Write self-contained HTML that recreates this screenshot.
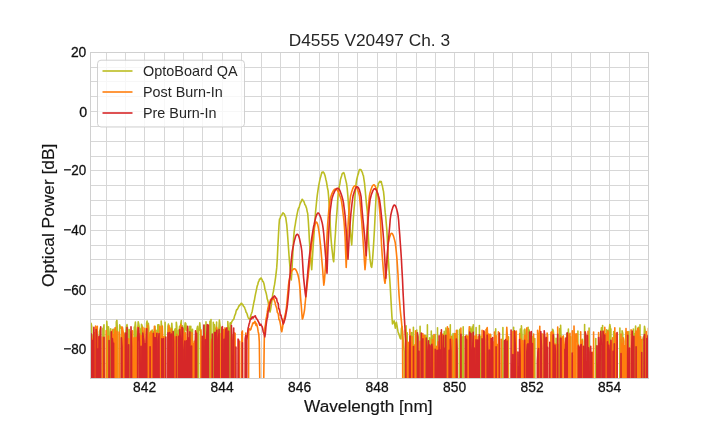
<!DOCTYPE html>
<html lang="en"><head><meta charset="utf-8"><title>D4555 V20497 Ch. 3</title>
<style>
html,body{margin:0;padding:0;background:#fff;}
body{width:720px;height:432px;overflow:hidden;font-family:"Liberation Sans",Arial,sans-serif;}
svg{display:block;position:absolute;left:0;top:0;}
.ov{filter:grayscale(1);}
.t{font-family:"Liberation Sans",Arial,sans-serif;fill:#262626;}
</style></head><body>
<svg width="720" height="432" viewBox="0 0 720 432">
<rect width="720" height="432" fill="#ffffff"/>
<defs><clipPath id="c"><rect x="90" y="52" width="559" height="327"/></clipPath></defs>
<path d="M106.5,52.5V378.5M125.5,52.5V378.5M144.5,52.5V378.5M164.5,52.5V378.5M183.5,52.5V378.5M202.5,52.5V378.5M222.5,52.5V378.5M241.5,52.5V378.5M261.5,52.5V378.5M280.5,52.5V378.5M299.5,52.5V378.5M319.5,52.5V378.5M338.5,52.5V378.5M357.5,52.5V378.5M377.5,52.5V378.5M396.5,52.5V378.5M416.5,52.5V378.5M435.5,52.5V378.5M454.5,52.5V378.5M474.5,52.5V378.5M493.5,52.5V378.5M512.5,52.5V378.5M532.5,52.5V378.5M551.5,52.5V378.5M571.5,52.5V378.5M590.5,52.5V378.5M609.5,52.5V378.5M629.5,52.5V378.5M90.5,67.5H648.5M90.5,81.5H648.5M90.5,96.5H648.5M90.5,111.5H648.5M90.5,126.5H648.5M90.5,141.5H648.5M90.5,156.5H648.5M90.5,170.5H648.5M90.5,185.5H648.5M90.5,200.5H648.5M90.5,215.5H648.5M90.5,230.5H648.5M90.5,245.5H648.5M90.5,259.5H648.5M90.5,274.5H648.5M90.5,289.5H648.5M90.5,304.5H648.5M90.5,319.5H648.5M90.5,334.5H648.5M90.5,348.5H648.5M90.5,363.5H648.5" stroke="#d7d7d7" stroke-width="1" fill="none" shape-rendering="crispEdges"/>
<g clip-path="url(#c)" fill="none" stroke-width="1.6" stroke-linejoin="round" stroke-linecap="butt">
<path d="M90.0,332.4 L90.6,630.0 L91.1,323.3 L91.7,326.4 L92.2,625.5 L92.8,650.5 L93.4,335.7 L93.9,333.1 L94.5,661.3 L95.0,603.6 L95.6,328.8 L96.2,328.0 L96.7,601.2 L97.3,669.2 L97.8,637.0 L98.4,683.0 L99.0,626.8 L99.5,331.8 L100.1,329.6 L100.6,327.8 L101.2,659.8 L101.8,638.8 L102.3,615.0 L102.9,328.4 L103.4,328.6 L104.0,324.9 L104.6,640.2 L105.1,696.8 L105.7,667.2 L106.2,687.4 L106.8,321.4 L107.4,332.8 L107.9,619.2 L108.5,326.8 L109.0,332.4 L109.6,641.1 L110.2,603.8 L110.7,328.7 L111.3,675.1 L111.8,637.2 L112.4,612.3 L113.0,329.2 L113.5,331.9 L114.1,329.1 L114.7,331.4 L115.2,693.3 L115.8,675.3 L116.3,321.9 L116.9,320.4 L117.5,332.9 L118.0,619.9 L118.6,617.9 L119.1,694.8 L119.7,324.9 L120.3,326.9 L120.8,328.1 L121.4,328.0 L121.9,328.1 L122.5,643.0 L123.1,333.0 L123.6,332.5 L124.2,334.4 L124.7,620.3 L125.3,621.3 L125.9,331.2 L126.4,327.1 L127.0,324.6 L127.5,328.7 L128.1,606.2 L128.7,676.4 L129.2,329.5 L129.8,336.1 L130.3,331.9 L130.9,602.0 L131.5,624.9 L132.0,656.7 L132.6,659.0 L133.1,667.8 L133.7,631.1 L134.3,327.1 L134.8,327.8 L135.4,322.0 L135.9,331.5 L136.5,631.8 L137.1,662.7 L137.6,331.0 L138.2,321.8 L138.7,324.0 L139.3,327.7 L139.9,328.9 L140.4,332.6 L141.0,602.7 L141.5,324.2 L142.1,325.7 L142.7,328.2 L143.2,613.4 L143.8,331.4 L144.3,654.0 L144.9,624.7 L145.5,645.7 L146.0,675.3 L146.6,323.2 L147.1,321.0 L147.7,608.1 L148.3,323.2 L148.8,328.2 L149.4,688.4 L149.9,671.1 L150.5,672.7 L151.1,331.6 L151.6,606.4 L152.2,330.1 L152.7,653.6 L153.3,331.7 L153.9,680.0 L154.4,330.4 L155.0,326.4 L155.5,675.9 L156.1,330.3 L156.7,642.0 L157.2,684.4 L157.8,325.0 L158.3,324.7 L158.9,324.8 L159.5,333.2 L160.0,338.1 L160.6,609.2 L161.2,321.1 L161.7,326.7 L162.3,691.4 L162.8,676.9 L163.4,647.3 L164.0,631.4 L164.5,672.0 L165.1,322.4 L165.6,639.4 L166.2,612.5 L166.8,650.3 L167.3,617.6 L167.9,326.4 L168.4,324.1 L169.0,651.6 L169.6,327.3 L170.1,331.5 L170.7,611.3 L171.2,333.0 L171.8,323.2 L172.4,331.9 L172.9,660.0 L173.5,623.7 L174.0,332.3 L174.6,330.5 L175.2,328.9 L175.7,616.8 L176.3,322.2 L176.8,326.3 L177.4,651.4 L178.0,696.5 L178.5,330.4 L179.1,331.7 L179.6,326.3 L180.2,331.3 L180.8,323.7 L181.3,320.6 L181.9,695.8 L182.4,325.7 L183.0,329.9 L183.6,330.4 L184.1,645.3 L184.7,326.8 L185.2,322.9 L185.8,323.5 L186.4,330.2 L186.9,326.6 L187.5,329.3 L188.0,655.8 L188.6,674.4 L189.2,646.7 L189.7,326.2 L190.3,331.5 L190.8,326.2 L191.4,639.0 L192.0,332.0 L192.5,329.3 L193.1,618.3 L193.6,629.3 L194.2,699.9 L194.8,644.7 L195.3,658.1 L195.9,332.3 L196.4,688.4 L197.0,328.9 L197.6,326.3 L198.1,642.0 L198.7,331.2 L199.2,329.3 L199.8,322.8 L200.4,330.0 L200.9,331.7 L201.5,668.3 L202.0,664.3 L202.6,663.7 L203.2,647.7 L203.7,328.2 L204.3,325.2 L204.8,606.7 L205.4,677.2 L206.0,321.9 L206.5,676.8 L207.1,332.6 L207.7,331.5 L208.2,625.7 L208.8,648.9 L209.3,644.1 L209.9,321.2 L210.5,628.3 L211.0,319.6 L211.6,647.4 L212.1,645.8 L212.7,627.0 L213.3,322.3 L213.8,641.8 L214.4,324.6 L214.9,328.4 L215.5,328.9 L216.1,695.3 L216.6,322.1 L217.2,683.1 L217.7,335.0 L218.3,329.0 L218.9,328.1 L219.4,320.1 L220.0,325.5 L220.5,613.2 L221.1,630.4 L221.7,692.8 L222.2,689.9 L222.8,331.3 L223.3,678.7 L223.9,614.2 L224.5,329.5 L225.0,693.9 L225.6,670.2 L226.1,681.5 L226.7,651.6 L227.3,655.0 L227.8,321.5 L228.4,328.6 L228.9,328.0 L229.5,675.8 L230.1,322.9 L230.6,322.7 L231.2,323.7 L231.7,321.9 L232.3,320.9 L232.8,319.9 L233.4,319.7 L233.9,318.9 L234.5,316.3 L235.0,315.0 L235.6,313.6 L236.1,311.2 L236.7,309.5 L237.2,309.7 L237.8,308.4 L238.3,307.4 L238.9,305.9 L239.4,305.9 L240.0,304.6 L240.6,304.6 L241.1,303.3 L241.7,303.4 L242.2,304.4 L242.8,304.6 L243.3,305.9 L243.9,306.6 L244.4,307.1 L245.0,308.8 L245.5,310.0 L246.1,312.2 L246.6,312.8 L247.2,314.2 L247.7,316.2 L248.3,317.8 L248.8,318.7 L249.4,318.8 L250.0,318.6 L250.5,316.5 L251.1,314.5 L251.6,313.2 L252.2,311.4 L252.7,308.6 L253.3,305.3 L253.9,302.2 L254.4,300.3 L255.0,296.7 L255.5,294.1 L256.1,291.4 L256.6,288.9 L257.2,286.0 L257.8,284.5 L258.3,282.2 L258.9,281.1 L259.4,279.4 L260.0,279.5 L260.5,278.4 L261.1,278.0 L261.6,278.8 L262.2,279.8 L262.8,281.6 L263.3,281.8 L263.9,283.5 L264.4,285.8 L265.0,289.5 L265.5,291.1 L266.1,292.9 L266.7,295.7 L267.2,298.9 L267.8,300.3 L268.3,302.9 L268.9,306.5 L269.4,309.0 L270.0,312.0 L270.6,309.5 L271.1,306.1 L271.7,302.1 L272.2,298.8 L272.8,293.9 L273.4,291.6 L273.9,287.8 L274.5,284.9 L275.0,281.7 L275.6,277.4 L276.2,272.3 L276.7,267.9 L277.3,258.9 L277.8,247.9 L278.4,236.4 L279.0,225.3 L279.5,219.1 L280.1,218.6 L280.6,216.4 L281.2,215.5 L281.8,215.2 L282.3,213.9 L282.9,212.8 L283.5,213.4 L284.0,213.7 L284.6,214.7 L285.1,216.4 L285.7,217.3 L286.3,221.6 L286.8,225.2 L287.4,232.4 L287.9,239.5 L288.5,248.0 L289.1,256.4 L289.6,263.0 L290.2,269.2 L290.7,274.3 L291.3,280.0 L291.9,271.3 L292.4,260.9 L293.0,250.4 L293.6,238.1 L294.1,232.5 L294.7,227.6 L295.3,224.3 L295.8,220.9 L296.4,217.8 L297.0,214.6 L297.5,212.2 L298.1,209.5 L298.7,207.8 L299.2,207.4 L299.8,204.7 L300.4,203.2 L300.9,202.1 L301.5,201.0 L302.1,199.3 L302.6,199.6 L303.2,200.7 L303.8,201.3 L304.3,202.6 L304.9,204.8 L305.5,205.1 L306.0,206.9 L306.6,208.3 L307.2,211.6 L307.7,213.5 L308.3,220.7 L308.9,230.5 L309.4,240.5 L310.0,248.9 L310.6,257.1 L311.1,262.5 L311.7,269.6 L312.3,260.0 L312.8,252.0 L313.4,242.9 L314.0,234.2 L314.5,226.8 L315.1,218.3 L315.6,211.4 L316.2,205.5 L316.8,199.4 L317.3,195.1 L317.9,190.8 L318.5,186.8 L319.0,184.1 L319.6,181.1 L320.2,178.3 L320.7,176.8 L321.3,174.4 L321.9,172.3 L322.4,172.7 L323.0,171.9 L323.5,172.4 L324.1,173.1 L324.7,174.7 L325.2,176.3 L325.8,179.2 L326.4,181.5 L326.9,184.5 L327.5,188.0 L328.1,190.9 L328.6,196.5 L329.2,205.6 L329.8,216.0 L330.3,226.6 L330.9,236.6 L331.4,243.1 L332.0,249.1 L332.6,254.4 L333.1,259.2 L333.7,261.7 L334.3,251.9 L334.8,242.2 L335.4,234.0 L335.9,225.1 L336.5,217.6 L337.1,209.9 L337.6,202.0 L338.2,193.6 L338.8,189.9 L339.3,186.2 L339.9,183.7 L340.4,179.9 L341.0,177.7 L341.6,175.9 L342.1,174.0 L342.7,173.1 L343.3,173.1 L343.8,172.7 L344.4,174.3 L344.9,176.6 L345.5,179.1 L346.1,181.6 L346.6,183.8 L347.2,188.5 L347.8,195.3 L348.3,202.3 L348.9,211.6 L349.4,219.7 L350.0,227.9 L350.6,234.2 L351.1,239.8 L351.7,244.9 L352.3,235.0 L352.8,226.1 L353.4,217.2 L353.9,211.2 L354.5,204.2 L355.0,196.2 L355.6,188.3 L356.1,183.3 L356.7,179.7 L357.3,177.2 L357.8,175.1 L358.4,173.6 L358.9,171.3 L359.5,169.5 L360.0,169.6 L360.6,169.5 L361.1,169.9 L361.7,171.4 L362.3,172.3 L362.8,174.3 L363.4,175.6 L363.9,179.1 L364.5,182.9 L365.0,188.0 L365.6,194.5 L366.1,200.2 L366.7,206.2 L367.3,211.1 L367.8,221.7 L368.4,237.5 L368.9,246.3 L369.5,252.6 L370.0,258.9 L370.6,263.2 L371.1,266.5 L371.7,267.4 L372.3,262.3 L372.8,256.1 L373.4,247.4 L373.9,239.2 L374.5,228.8 L375.1,216.0 L375.6,205.7 L376.2,194.9 L376.8,190.3 L377.3,188.4 L377.9,186.2 L378.4,183.5 L379.0,182.7 L379.6,181.6 L380.1,181.3 L380.7,182.2 L381.3,181.6 L381.8,184.3 L382.4,185.8 L382.9,189.0 L383.5,191.4 L384.1,197.2 L384.6,205.5 L385.2,212.4 L385.8,217.7 L386.3,223.8 L386.9,230.7 L387.4,240.5 L388.0,253.4 L388.6,262.8 L389.1,270.7 L389.7,278.6 L390.3,287.9 L390.8,297.0 L391.4,307.6 L391.9,316.4 L392.5,323.9 L393.1,322.5 L393.6,321.7 L394.2,320.8 L394.7,324.4 L395.3,328.2 L395.8,324.7 L396.4,322.3 L397.0,325.6 L397.5,328.8 L398.1,331.9 L398.6,333.4 L399.2,335.0 L399.7,336.7 L400.3,338.4 L400.9,338.9 L401.4,328.6 L402.0,326.4 L402.5,332.9 L403.1,339.3 L403.6,345.5 L404.2,351.7 L405.0,673.0 L405.6,621.0 L406.1,325.9 L406.7,647.1 L407.2,332.9 L407.8,666.0 L408.4,625.3 L408.9,654.0 L409.5,650.4 L410.0,665.7 L410.6,690.7 L411.2,333.1 L411.7,332.6 L412.3,672.0 L412.8,660.3 L413.4,327.2 L414.0,637.9 L414.5,606.9 L415.1,662.3 L415.6,666.9 L416.2,341.8 L416.8,330.1 L417.3,686.9 L417.9,335.7 L418.4,651.9 L419.0,612.6 L419.6,680.1 L420.1,326.4 L420.7,613.4 L421.2,658.3 L421.8,642.9 L422.3,666.5 L422.9,639.9 L423.5,690.4 L424.0,671.9 L424.6,689.4 L425.1,650.5 L425.7,335.6 L426.3,699.1 L426.8,630.1 L427.4,324.9 L427.9,608.6 L428.5,659.2 L429.1,610.9 L429.6,337.7 L430.2,654.2 L430.7,642.8 L431.3,331.1 L431.9,656.4 L432.4,335.9 L433.0,336.4 L433.5,677.9 L434.1,664.0 L434.7,651.6 L435.2,334.6 L435.8,691.9 L436.3,669.5 L436.9,693.5 L437.5,327.8 L438.0,649.7 L438.6,654.9 L439.1,636.8 L439.7,660.2 L440.3,339.7 L440.8,600.6 L441.4,696.1 L441.9,687.0 L442.5,629.4 L443.1,334.3 L443.6,611.9 L444.2,331.4 L444.7,629.7 L445.3,674.4 L445.9,328.1 L446.4,332.7 L447.0,687.4 L447.5,688.8 L448.1,338.0 L448.7,619.7 L449.2,632.5 L449.8,662.8 L450.3,324.8 L450.9,681.8 L451.4,651.2 L452.0,336.0 L452.6,646.2 L453.1,333.6 L453.7,638.5 L454.2,658.7 L454.8,333.7 L455.4,688.6 L455.9,647.1 L456.5,333.6 L457.0,612.7 L457.6,330.4 L458.2,650.9 L458.7,678.6 L459.3,696.5 L459.8,329.4 L460.4,332.2 L461.0,624.7 L461.5,664.0 L462.1,337.0 L462.6,649.2 L463.2,326.9 L463.8,655.6 L464.3,692.7 L464.9,620.7 L465.4,671.2 L466.0,690.0 L466.6,339.5 L467.1,638.8 L467.7,336.3 L468.2,691.7 L468.8,340.2 L469.4,330.2 L469.9,326.7 L470.5,333.2 L471.0,329.0 L471.6,612.7 L472.2,327.0 L472.7,335.3 L473.3,324.8 L473.8,605.0 L474.4,673.6 L475.0,661.7 L475.5,623.7 L476.1,327.6 L476.6,693.9 L477.2,641.0 L477.8,671.9 L478.3,336.8 L478.9,670.7 L479.4,325.6 L480.0,646.0 L480.6,661.4 L481.1,336.1 L481.7,646.7 L482.2,636.6 L482.8,628.1 L483.3,614.8 L483.9,629.3 L484.5,339.4 L485.0,690.2 L485.6,655.5 L486.1,665.0 L486.7,328.8 L487.3,679.6 L487.8,687.0 L488.4,670.8 L488.9,650.9 L489.5,620.1 L490.1,679.1 L490.6,335.1 L491.2,608.4 L491.7,657.6 L492.3,644.7 L492.9,672.6 L493.4,674.5 L494.0,608.8 L494.5,662.3 L495.1,338.3 L495.7,328.9 L496.2,632.2 L496.8,653.1 L497.3,663.8 L497.9,638.4 L498.5,634.5 L499.0,646.0 L499.6,601.8 L500.1,622.0 L500.7,607.4 L501.3,689.4 L501.8,610.5 L502.4,612.7 L502.9,327.5 L503.5,611.8 L504.1,627.5 L504.6,698.6 L505.2,679.1 L505.7,658.0 L506.3,628.8 L506.9,336.1 L507.4,682.0 L508.0,337.0 L508.5,336.9 L509.1,637.0 L509.7,692.6 L510.2,639.5 L510.8,669.7 L511.3,679.8 L511.9,666.0 L512.4,646.4 L513.0,640.3 L513.6,327.2 L514.1,623.5 L514.7,338.0 L515.2,334.9 L515.8,338.0 L516.4,683.0 L516.9,667.2 L517.5,633.8 L518.0,615.5 L518.6,636.9 L519.2,685.2 L519.7,668.0 L520.3,329.1 L520.8,639.3 L521.4,325.8 L522.0,334.7 L522.5,635.3 L523.1,619.5 L523.6,630.5 L524.2,330.1 L524.8,329.1 L525.3,335.4 L525.9,610.6 L526.4,634.9 L527.0,692.4 L527.6,699.1 L528.1,327.3 L528.7,603.9 L529.2,330.0 L529.8,665.2 L530.4,601.2 L530.9,625.7 L531.5,333.1 L532.0,667.6 L532.6,336.9 L533.2,623.4 L533.7,619.5 L534.3,696.0 L534.8,338.6 L535.4,639.1 L536.0,629.3 L536.5,677.1 L537.1,627.7 L537.6,667.6 L538.2,672.5 L538.8,618.1 L539.3,628.2 L539.9,341.3 L540.4,629.8 L541.0,340.7 L541.6,635.5 L542.1,686.4 L542.7,619.1 L543.2,613.7 L543.8,334.6 L544.3,679.6 L544.9,606.7 L545.5,663.8 L546.0,645.2 L546.6,696.6 L547.1,671.7 L547.7,608.1 L548.3,606.3 L548.8,620.0 L549.4,632.2 L549.9,681.7 L550.5,610.3 L551.1,334.9 L551.6,654.2 L552.2,685.8 L552.7,329.3 L553.3,330.7 L553.9,337.5 L554.4,684.2 L555.0,626.4 L555.5,633.5 L556.1,338.3 L556.7,638.4 L557.2,695.6 L557.8,344.4 L558.3,627.0 L558.9,600.3 L559.5,328.7 L560.0,632.3 L560.6,325.2 L561.1,338.5 L561.7,622.3 L562.3,337.2 L562.8,621.6 L563.4,633.1 L563.9,640.6 L564.5,628.7 L565.1,633.2 L565.6,661.9 L566.2,619.8 L566.7,333.6 L567.3,675.2 L567.9,339.2 L568.4,329.0 L569.0,625.8 L569.5,639.7 L570.1,665.7 L570.7,336.7 L571.2,683.8 L571.8,619.3 L572.3,646.2 L572.9,653.9 L573.4,665.5 L574.0,668.6 L574.6,670.7 L575.1,336.1 L575.7,334.5 L576.2,651.8 L576.8,624.8 L577.4,636.4 L577.9,331.0 L578.5,620.1 L579.0,697.7 L579.6,653.7 L580.2,605.3 L580.7,339.4 L581.3,637.4 L581.8,666.2 L582.4,339.3 L583.0,623.0 L583.5,670.3 L584.1,644.9 L584.6,324.6 L585.2,699.3 L585.8,604.7 L586.3,665.0 L586.9,684.0 L587.4,670.4 L588.0,688.2 L588.6,673.1 L589.1,328.1 L589.7,649.9 L590.2,678.1 L590.8,649.7 L591.4,645.5 L591.9,616.1 L592.5,626.5 L593.0,678.3 L593.6,620.5 L594.2,631.3 L594.7,637.3 L595.3,667.4 L595.8,338.6 L596.4,641.6 L597.0,695.2 L597.5,620.5 L598.1,659.0 L598.6,693.7 L599.2,659.6 L599.8,689.1 L600.3,639.4 L600.9,340.1 L601.4,327.9 L602.0,606.3 L602.6,325.5 L603.1,601.4 L603.7,607.6 L604.2,336.4 L604.8,337.6 L605.3,340.0 L605.9,690.1 L606.5,329.7 L607.0,334.9 L607.6,630.8 L608.1,330.2 L608.7,634.3 L609.3,329.0 L609.8,324.5 L610.4,328.0 L610.9,329.2 L611.5,669.4 L612.1,638.4 L612.6,629.2 L613.2,690.4 L613.7,331.6 L614.3,628.1 L614.9,696.5 L615.4,657.9 L616.0,335.6 L616.5,673.3 L617.1,341.0 L617.7,697.7 L618.2,652.2 L618.8,608.4 L619.3,672.0 L619.9,328.0 L620.5,629.2 L621.0,339.5 L621.6,646.3 L622.1,330.7 L622.7,333.1 L623.3,675.0 L623.8,633.1 L624.4,660.6 L624.9,611.1 L625.5,339.5 L626.1,332.6 L626.6,331.9 L627.2,332.8 L627.7,339.6 L628.3,678.5 L628.9,331.5 L629.4,600.6 L630.0,633.2 L630.5,676.6 L631.1,656.8 L631.7,636.0 L632.2,333.1 L632.8,655.7 L633.3,329.1 L633.9,608.7 L634.4,333.7 L635.0,338.5 L635.6,326.0 L636.1,339.5 L636.7,638.8 L637.2,655.5 L637.8,337.8 L638.4,327.3 L638.9,675.2 L639.5,646.7 L640.0,324.9 L640.6,685.2 L641.2,682.3 L641.7,630.3 L642.3,665.4 L642.8,339.5 L643.4,336.9 L644.0,340.0 L644.5,326.4 L645.1,330.0 L645.6,614.6 L646.2,336.0 L646.8,680.1 L647.3,339.6 L647.9,644.5 L648.4,649.6 L649.0,616.2" stroke="#bcbd22"/>
<path d="M90.0,606.4 L90.6,669.6 L91.1,697.5 L91.7,338.8 L92.2,679.9 L92.8,652.7 L93.4,336.7 L93.9,332.5 L94.5,623.8 L95.0,625.7 L95.6,326.1 L96.2,670.3 L96.7,331.5 L97.3,326.3 L97.8,649.3 L98.4,337.7 L99.0,669.3 L99.5,633.6 L100.1,620.1 L100.6,336.8 L101.2,690.1 L101.8,692.6 L102.3,654.7 L102.9,337.2 L103.4,660.4 L104.0,607.6 L104.6,648.0 L105.1,676.5 L105.7,601.4 L106.2,330.5 L106.8,620.9 L107.4,679.0 L107.9,683.7 L108.5,336.0 L109.0,618.3 L109.6,685.2 L110.2,678.6 L110.7,601.9 L111.3,673.5 L111.9,631.3 L112.4,330.0 L113.0,664.6 L113.5,617.9 L114.1,334.1 L114.7,335.5 L115.2,327.5 L115.8,611.4 L116.3,665.2 L116.9,331.3 L117.5,652.2 L118.0,693.4 L118.6,690.9 L119.1,332.1 L119.7,336.2 L120.3,687.7 L120.8,648.0 L121.4,684.5 L121.9,326.9 L122.5,327.5 L123.1,331.5 L123.6,336.8 L124.2,612.1 L124.7,339.3 L125.3,657.6 L125.9,673.5 L126.4,649.7 L127.0,666.2 L127.5,602.5 L128.1,617.9 L128.7,338.8 L129.2,610.3 L129.8,686.3 L130.3,663.2 L130.9,615.0 L131.5,648.5 L132.0,625.9 L132.6,330.9 L133.1,675.3 L133.7,647.8 L134.3,337.8 L134.8,684.0 L135.4,698.8 L135.9,337.2 L136.5,673.3 L137.1,698.9 L137.6,327.4 L138.2,676.3 L138.7,696.1 L139.3,699.5 L139.9,333.7 L140.4,608.8 L141.0,677.4 L141.5,335.5 L142.1,694.0 L142.7,327.2 L143.2,338.4 L143.8,650.7 L144.3,686.5 L144.9,328.4 L145.5,618.4 L146.0,657.3 L146.6,624.2 L147.1,632.5 L147.7,325.4 L148.3,605.0 L148.8,690.6 L149.4,339.6 L150.0,332.5 L150.5,692.3 L151.1,331.1 L151.6,342.1 L152.2,654.4 L152.8,333.5 L153.3,629.7 L153.9,625.5 L154.4,326.2 L155.0,331.9 L155.6,666.8 L156.1,337.8 L156.7,340.3 L157.2,332.5 L157.8,689.5 L158.4,698.2 L158.9,653.0 L159.5,619.0 L160.0,326.4 L160.6,685.0 L161.2,633.7 L161.7,338.4 L162.3,326.1 L162.8,338.9 L163.4,608.4 L164.0,336.8 L164.5,653.3 L165.1,674.8 L165.6,680.7 L166.2,649.4 L166.8,678.0 L167.3,623.5 L167.9,338.0 L168.4,331.2 L169.0,325.5 L169.6,642.4 L170.1,604.6 L170.7,610.4 L171.2,328.9 L171.8,623.6 L172.4,334.2 L172.9,339.9 L173.5,646.7 L174.0,602.0 L174.6,336.6 L175.2,676.1 L175.7,617.4 L176.3,341.9 L176.8,334.2 L177.4,615.1 L178.0,606.6 L178.5,671.6 L179.1,669.7 L179.6,342.5 L180.2,339.3 L180.8,324.9 L181.3,625.2 L181.9,687.3 L182.4,618.2 L183.0,328.8 L183.6,338.1 L184.1,626.9 L184.7,338.5 L185.2,332.7 L185.8,613.0 L186.4,629.6 L186.9,340.8 L187.5,328.2 L188.0,342.5 L188.6,344.2 L189.2,646.5 L189.7,627.9 L190.3,676.7 L190.9,340.1 L191.4,659.6 L192.0,332.8 L192.5,695.8 L193.1,343.5 L193.7,687.1 L194.2,341.2 L194.8,624.0 L195.3,341.0 L195.9,331.2 L196.5,622.1 L197.0,626.7 L197.6,651.6 L198.1,678.0 L198.7,644.4 L199.3,613.8 L199.8,656.3 L200.4,689.3 L200.9,329.9 L201.5,667.8 L202.1,647.2 L202.6,341.3 L203.2,683.3 L203.7,666.9 L204.3,333.5 L204.9,340.2 L205.4,617.3 L206.0,340.4 L206.5,336.8 L207.1,333.3 L207.7,678.2 L208.2,651.3 L208.8,660.7 L209.3,680.7 L209.9,672.2 L210.5,606.4 L211.0,345.1 L211.6,339.2 L212.1,635.6 L212.7,622.2 L213.3,650.8 L213.8,639.4 L214.4,663.4 L214.9,335.9 L215.5,625.6 L216.1,684.4 L216.6,327.3 L217.2,341.6 L217.7,337.3 L218.3,644.4 L218.9,621.6 L219.4,334.6 L220.0,333.6 L220.5,675.7 L221.1,611.3 L221.7,341.2 L222.2,329.9 L222.8,335.6 L223.3,329.5 L223.9,334.2 L224.5,619.6 L225.0,327.8 L225.6,651.9 L226.1,687.7 L226.7,341.9 L227.3,614.2 L227.8,330.6 L228.4,681.7 L229.0,642.1 L229.5,686.1 L230.1,663.1 L230.6,617.6 L231.2,338.3 L231.8,334.7 L232.3,628.7 L232.9,645.9 L233.4,692.1 L234.0,332.6 L234.6,338.6 L235.1,333.2 L235.7,665.8 L236.2,642.3 L236.8,619.2 L237.4,604.9 L237.9,632.4 L238.5,693.5 L239.0,681.1 L239.6,341.3 L240.2,695.0 L240.7,694.8 L241.3,606.0 L241.8,332.3 L242.4,331.0 L243.0,624.7 L243.5,651.8 L244.1,688.6 L244.6,604.4 L245.2,660.6 L245.8,333.0 L246.3,601.9 L246.9,699.8 L247.4,694.7 L248.0,622.3 L248.7,329.8 L249.2,328.8 L249.8,329.1 L250.3,330.0 L250.9,329.2 L251.5,326.8 L252.0,325.9 L252.6,323.6 L253.2,322.8 L253.7,323.5 L254.3,322.5 L254.8,321.3 L255.4,322.2 L256.0,325.4 L256.5,323.6 L257.1,325.8 L257.6,327.8 L258.2,331.7 L258.8,334.3 L259.3,341.6 L259.9,389.4 L260.5,420.6 L261.0,419.5 L261.6,419.1 L262.1,420.8 L262.7,420.9 L263.3,420.3 L263.8,374.2 L264.4,331.6 L264.9,327.4 L265.5,324.3 L266.1,318.9 L266.6,316.5 L267.2,312.9 L267.8,308.7 L268.3,306.8 L268.9,304.5 L269.4,302.1 L270.0,301.8 L270.6,299.4 L271.1,299.6 L271.7,299.3 L272.3,298.9 L272.8,299.4 L273.4,297.5 L273.9,298.5 L274.5,301.1 L275.1,302.4 L275.6,305.3 L276.2,306.7 L276.7,308.2 L277.3,312.2 L277.9,313.1 L278.4,314.6 L279.0,319.8 L279.6,319.9 L280.1,322.5 L280.7,325.6 L281.2,329.8 L281.8,331.7 L282.4,328.3 L282.9,325.2 L283.5,322.2 L284.0,319.5 L284.6,317.2 L285.1,314.8 L285.7,312.2 L286.2,309.1 L286.8,304.6 L287.3,298.6 L287.9,292.1 L288.4,286.0 L289.0,281.2 L289.6,278.2 L290.1,275.7 L290.7,273.5 L291.2,271.9 L291.8,270.9 L292.3,270.2 L292.9,269.6 L293.4,269.1 L294.0,268.8 L294.5,268.7 L295.1,268.9 L295.7,269.6 L296.2,270.5 L296.8,271.7 L297.3,273.0 L297.9,274.6 L298.4,276.8 L299.0,279.6 L299.5,283.7 L300.1,290.4 L300.6,297.9 L301.2,304.8 L301.7,311.8 L302.3,319.0 L302.9,318.0 L303.4,315.9 L304.0,313.1 L304.6,309.5 L305.1,303.9 L305.7,298.0 L306.3,292.8 L306.8,287.7 L307.4,282.6 L308.0,277.6 L308.5,272.6 L309.1,267.7 L309.7,262.6 L310.2,257.5 L310.8,252.3 L311.4,247.3 L311.9,242.6 L312.5,238.4 L313.1,234.5 L313.6,230.8 L314.2,227.7 L314.7,225.5 L315.3,223.7 L315.9,222.4 L316.4,222.0 L317.0,222.8 L317.6,224.3 L318.1,226.4 L318.7,229.8 L319.3,234.0 L319.8,238.6 L320.4,244.1 L321.0,250.1 L321.5,256.5 L322.1,263.0 L322.7,270.0 L323.2,277.4 L323.8,285.2 L324.4,280.8 L324.9,274.5 L325.5,266.8 L326.0,257.7 L326.6,244.9 L327.2,232.7 L327.7,223.7 L328.3,216.3 L328.8,210.6 L329.4,205.3 L330.0,200.9 L330.5,197.7 L331.1,195.9 L331.6,194.4 L332.2,193.1 L332.8,191.9 L333.3,190.9 L333.9,190.1 L334.4,189.5 L335.0,189.1 L335.6,189.0 L336.1,189.1 L336.7,189.5 L337.2,190.1 L337.8,191.0 L338.4,192.0 L338.9,193.2 L339.5,194.6 L340.0,196.1 L340.6,197.7 L341.2,199.7 L341.7,202.7 L342.3,206.6 L342.8,211.1 L343.4,215.9 L344.0,221.2 L344.5,227.9 L345.1,237.1 L345.6,250.6 L346.2,267.5 L346.8,252.9 L347.3,240.1 L347.9,228.9 L348.4,219.1 L349.0,211.7 L349.5,205.1 L350.1,199.7 L350.6,195.8 L351.2,193.6 L351.7,191.7 L352.3,190.0 L352.8,188.5 L353.4,187.4 L353.9,186.5 L354.5,186.0 L355.0,185.8 L355.6,186.0 L356.2,186.6 L356.7,187.5 L357.3,188.7 L357.8,190.2 L358.4,192.0 L358.9,193.9 L359.5,196.4 L360.0,201.2 L360.6,207.5 L361.1,214.2 L361.7,220.9 L362.2,228.3 L362.8,236.0 L363.3,244.0 L363.9,252.2 L364.4,260.8 L365.0,269.7 L365.6,263.0 L366.1,254.3 L366.7,244.3 L367.2,231.2 L367.8,216.1 L368.3,207.5 L368.9,201.0 L369.4,196.1 L370.0,193.0 L370.6,191.0 L371.1,189.2 L371.7,187.7 L372.2,186.4 L372.8,185.5 L373.3,185.0 L373.9,184.8 L374.4,185.1 L375.0,185.9 L375.6,187.1 L376.1,188.6 L376.7,190.3 L377.2,192.3 L377.8,194.5 L378.3,197.8 L378.9,202.3 L379.4,207.7 L380.0,214.0 L380.6,223.8 L381.1,236.6 L381.7,247.5 L382.2,255.4 L382.8,262.8 L383.3,269.5 L383.9,275.3 L384.4,280.0 L385.0,283.3 L385.6,278.7 L386.1,273.1 L386.7,266.8 L387.3,257.9 L387.8,248.1 L388.4,242.6 L389.0,239.9 L389.5,237.6 L390.1,235.7 L390.6,234.3 L391.2,233.5 L391.8,233.3 L392.3,233.7 L392.9,234.7 L393.5,236.1 L394.0,237.9 L394.6,240.1 L395.2,242.5 L395.7,246.4 L396.3,251.9 L396.9,258.4 L397.4,265.6 L398.0,274.5 L398.5,285.7 L399.1,295.7 L399.7,303.0 L400.2,309.2 L400.8,315.1 L401.4,320.9 L401.9,326.4 L402.5,331.7 L404.3,674.1 L404.9,621.2 L405.4,330.1 L406.0,643.1 L406.5,340.6 L407.1,680.5 L407.7,644.0 L408.2,342.4 L408.8,690.0 L409.3,671.0 L409.9,329.3 L410.5,605.8 L411.0,342.5 L411.6,646.9 L412.1,336.6 L412.7,633.8 L413.3,621.3 L413.8,616.2 L414.4,345.1 L414.9,600.4 L415.5,330.8 L416.1,619.8 L416.6,669.0 L417.2,686.5 L417.7,623.6 L418.3,665.5 L418.9,631.8 L419.4,646.3 L420.0,341.3 L420.5,656.2 L421.1,668.1 L421.7,672.6 L422.2,632.2 L422.8,333.6 L423.3,337.3 L423.9,339.3 L424.5,335.4 L425.0,622.8 L425.6,681.5 L426.1,602.2 L426.7,640.9 L427.3,682.1 L427.8,346.2 L428.4,615.1 L428.9,695.5 L429.5,651.5 L430.1,640.7 L430.6,627.1 L431.2,610.3 L431.7,644.6 L432.3,339.5 L432.9,688.2 L433.4,666.1 L434.0,334.5 L434.5,611.1 L435.1,609.5 L435.7,662.3 L436.2,346.2 L436.8,651.9 L437.3,637.9 L437.9,341.7 L438.5,658.2 L439.0,692.8 L439.6,347.3 L440.1,645.2 L440.7,332.8 L441.3,620.4 L441.8,607.0 L442.4,623.0 L442.9,334.2 L443.5,337.1 L444.1,661.1 L444.6,624.8 L445.2,649.5 L445.7,655.9 L446.3,603.9 L446.9,630.8 L447.4,326.8 L448.0,669.5 L448.5,328.6 L449.1,334.7 L449.7,678.8 L450.2,645.6 L450.8,689.7 L451.3,336.6 L451.9,637.5 L452.5,339.9 L453.0,676.8 L453.6,681.7 L454.1,643.5 L454.7,333.6 L455.3,605.1 L455.8,643.9 L456.4,330.4 L456.9,346.9 L457.5,658.9 L458.1,660.1 L458.6,636.1 L459.2,606.5 L459.7,677.0 L460.3,616.4 L460.9,328.0 L461.4,655.6 L462.0,682.5 L462.5,601.6 L463.1,629.7 L463.7,653.7 L464.2,698.3 L464.8,609.9 L465.3,336.5 L465.9,345.6 L466.5,335.4 L467.0,636.4 L467.6,336.2 L468.1,339.9 L468.7,686.5 L469.3,326.7 L469.8,652.9 L470.4,688.7 L470.9,666.8 L471.5,632.1 L472.1,691.5 L472.6,625.4 L473.2,658.4 L473.7,611.1 L474.3,672.4 L474.9,336.1 L475.4,653.3 L476.0,644.1 L476.5,334.7 L477.1,344.3 L477.7,692.2 L478.2,667.9 L478.8,338.1 L479.3,659.7 L479.9,638.8 L480.5,697.3 L481.0,672.5 L481.6,630.4 L482.1,330.4 L482.7,639.0 L483.3,644.3 L483.8,642.4 L484.4,331.9 L484.9,608.8 L485.5,649.4 L486.1,329.6 L486.6,333.4 L487.2,327.6 L487.7,337.2 L488.3,339.7 L488.9,334.1 L489.4,659.5 L490.0,338.5 L490.5,334.4 L491.1,634.4 L491.7,671.3 L492.2,345.2 L492.8,341.7 L493.3,663.0 L493.9,610.8 L494.5,332.0 L495.0,690.3 L495.6,642.4 L496.1,335.7 L496.7,675.7 L497.3,344.5 L497.8,663.2 L498.4,331.7 L498.9,693.3 L499.5,605.4 L500.1,689.2 L500.6,669.2 L501.2,339.2 L501.7,654.2 L502.3,600.2 L502.9,626.6 L503.4,687.9 L504.0,610.2 L504.5,653.8 L505.1,634.9 L505.7,628.0 L506.2,342.4 L506.8,327.2 L507.3,335.7 L507.9,337.7 L508.5,640.7 L509.0,608.4 L509.6,643.8 L510.1,687.6 L510.7,688.3 L511.3,662.1 L511.8,667.2 L512.4,625.7 L512.9,331.5 L513.5,332.8 L514.1,332.1 L514.6,331.9 L515.2,332.1 L515.7,675.3 L516.3,331.0 L516.9,613.8 L517.4,650.3 L518.0,605.5 L518.5,611.7 L519.1,618.6 L519.7,333.5 L520.2,697.3 L520.8,338.7 L521.3,630.2 L521.9,344.2 L522.5,340.5 L523.0,624.2 L523.6,691.3 L524.1,344.9 L524.7,335.3 L525.3,665.6 L525.8,696.6 L526.4,330.6 L526.9,327.9 L527.5,661.9 L528.0,340.6 L528.6,656.2 L529.2,613.2 L529.7,617.8 L530.3,667.6 L530.8,336.0 L531.4,340.8 L532.0,687.0 L532.5,618.0 L533.1,658.7 L533.6,334.1 L534.2,684.4 L534.8,607.1 L535.3,664.0 L535.9,644.0 L536.4,617.8 L537.0,625.5 L537.6,330.3 L538.1,335.4 L538.7,646.6 L539.2,342.2 L539.8,326.2 L540.4,630.1 L540.9,647.9 L541.5,690.8 L542.0,333.8 L542.6,619.8 L543.2,671.8 L543.7,677.2 L544.3,334.1 L544.8,629.6 L545.4,339.3 L546.0,338.4 L546.5,649.0 L547.1,333.0 L547.6,335.6 L548.2,639.4 L548.8,688.4 L549.3,621.9 L549.9,642.1 L550.4,648.5 L551.0,332.3 L551.6,616.6 L552.1,331.6 L552.7,672.8 L553.2,333.2 L553.8,343.1 L554.4,617.4 L554.9,343.9 L555.5,635.2 L556.0,636.5 L556.6,344.7 L557.2,675.6 L557.7,327.0 L558.3,679.5 L558.8,674.2 L559.4,665.2 L560.0,690.9 L560.5,336.0 L561.1,609.8 L561.6,348.1 L562.2,663.0 L562.8,337.1 L563.3,335.9 L563.9,343.5 L564.4,348.7 L565.0,673.3 L565.6,338.2 L566.1,646.4 L566.7,346.0 L567.2,651.3 L567.8,600.1 L568.4,650.4 L568.9,334.4 L569.5,653.9 L570.0,333.3 L570.6,664.3 L571.2,688.0 L571.7,612.4 L572.3,330.8 L572.8,664.5 L573.4,674.8 L574.0,326.0 L574.5,344.8 L575.1,624.8 L575.6,334.1 L576.2,341.2 L576.8,333.8 L577.3,343.0 L577.9,604.6 L578.4,344.6 L579.0,601.8 L579.6,670.4 L580.1,680.7 L580.7,331.7 L581.2,617.4 L581.8,648.2 L582.4,340.8 L582.9,699.4 L583.5,661.0 L584.0,683.1 L584.6,659.3 L585.2,677.7 L585.7,613.7 L586.3,683.2 L586.8,630.2 L587.4,660.3 L588.0,331.4 L588.5,610.7 L589.1,627.2 L589.6,698.6 L590.2,634.3 L590.8,640.5 L591.3,686.6 L591.9,641.2 L592.4,352.2 L593.0,674.4 L593.6,332.1 L594.1,665.8 L594.7,621.5 L595.2,694.2 L595.8,691.2 L596.4,632.9 L596.9,698.8 L597.5,686.1 L598.0,695.2 L598.6,332.5 L599.2,640.7 L599.7,668.2 L600.3,627.2 L600.8,693.9 L601.4,632.8 L602.0,638.3 L602.5,653.4 L603.1,625.0 L603.6,331.4 L604.2,627.4 L604.8,327.4 L605.3,625.8 L605.9,333.7 L606.4,683.0 L607.0,682.9 L607.6,331.1 L608.1,332.3 L608.7,661.4 L609.2,344.1 L609.8,697.6 L610.4,695.6 L610.9,342.0 L611.5,625.3 L612.0,693.3 L612.6,337.9 L613.2,644.6 L613.7,619.6 L614.3,664.7 L614.8,327.8 L615.4,654.2 L616.0,641.0 L616.5,333.4 L617.1,344.3 L617.6,619.7 L618.2,696.8 L618.8,662.3 L619.3,699.0 L619.9,655.9 L620.4,681.0 L621.0,334.0 L621.6,613.8 L622.1,343.6 L622.7,666.0 L623.2,337.7 L623.8,341.1 L624.4,669.7 L624.9,345.8 L625.5,663.6 L626.0,328.6 L626.6,699.9 L627.2,608.2 L627.7,331.8 L628.3,633.1 L628.8,625.7 L629.4,629.9 L630.0,690.1 L630.5,602.9 L631.1,329.9 L631.6,661.9 L632.2,644.0 L632.8,645.7 L633.3,641.1 L633.9,629.2 L634.4,651.2 L635.0,670.9 L635.6,339.0 L636.1,331.1 L636.7,639.7 L637.2,340.6 L637.8,328.2 L638.4,329.2 L638.9,330.6 L639.5,634.4 L640.0,643.2 L640.6,336.5 L641.2,606.5 L641.7,339.6 L642.3,664.0 L642.8,609.0 L643.4,644.2 L644.0,629.6 L644.5,631.3 L645.1,631.1 L645.6,648.6 L646.2,331.5 L646.8,605.7 L647.3,691.3 L647.9,684.6 L648.4,328.3 L649.0,645.3" stroke="#ff7f0e"/>
<path d="M90.0,330.2 L90.6,636.6 L91.1,333.7 L91.7,647.8 L92.2,620.3 L92.8,340.2 L93.4,345.9 L93.9,327.3 L94.5,625.2 L95.1,660.4 L95.6,671.4 L96.2,329.5 L96.7,335.3 L97.3,669.7 L97.9,349.1 L98.4,688.4 L99.0,336.2 L99.5,668.2 L100.1,346.0 L100.7,326.8 L101.2,657.5 L101.8,608.3 L102.3,657.9 L102.9,676.3 L103.5,687.8 L104.0,337.3 L104.6,629.2 L105.2,636.1 L105.7,647.3 L106.3,686.9 L106.8,609.5 L107.4,625.5 L108.0,648.1 L108.5,615.2 L109.1,340.5 L109.6,650.4 L110.2,642.6 L110.8,634.2 L111.3,331.8 L111.9,678.5 L112.4,338.5 L113.0,344.6 L113.6,343.2 L114.1,660.7 L114.7,636.8 L115.3,696.3 L115.8,607.4 L116.4,694.3 L116.9,664.2 L117.5,655.1 L118.1,665.9 L118.6,665.5 L119.2,607.5 L119.7,627.4 L120.3,619.8 L120.9,643.8 L121.4,337.8 L122.0,346.7 L122.6,645.9 L123.1,660.5 L123.7,654.0 L124.2,685.6 L124.8,665.9 L125.4,333.0 L125.9,625.9 L126.5,601.6 L127.0,327.6 L127.6,680.4 L128.2,646.7 L128.7,344.7 L129.3,631.3 L129.8,698.7 L130.4,647.7 L131.0,326.8 L131.5,346.3 L132.1,601.0 L132.7,613.8 L133.2,666.4 L133.8,687.0 L134.3,655.4 L134.9,634.3 L135.5,600.4 L136.0,626.5 L136.6,616.3 L137.1,669.9 L137.7,336.1 L138.3,327.7 L138.8,330.9 L139.4,341.8 L139.9,631.2 L140.5,620.5 L141.1,346.3 L141.6,635.2 L142.2,659.5 L142.8,333.0 L143.3,337.4 L143.9,341.1 L144.4,610.2 L145.0,343.8 L145.6,621.3 L146.1,342.4 L146.7,328.8 L147.2,691.2 L147.8,618.8 L148.4,624.8 L148.9,634.4 L149.5,651.0 L150.1,346.7 L150.6,667.4 L151.2,653.2 L151.7,636.4 L152.3,681.5 L152.9,654.0 L153.4,333.4 L154.0,632.6 L154.5,337.5 L155.1,614.8 L155.7,337.9 L156.2,624.0 L156.8,333.6 L157.3,677.0 L157.9,655.6 L158.5,341.0 L159.0,333.6 L159.6,620.1 L160.2,632.8 L160.7,677.2 L161.3,604.4 L161.8,338.8 L162.4,647.0 L163.0,339.3 L163.5,338.6 L164.1,614.9 L164.6,683.2 L165.2,625.6 L165.8,337.1 L166.3,611.4 L166.9,649.8 L167.4,645.5 L168.0,332.8 L168.6,654.6 L169.1,346.6 L169.7,332.5 L170.3,650.9 L170.8,335.4 L171.4,334.1 L171.9,629.6 L172.5,630.3 L173.1,331.6 L173.6,342.0 L174.2,606.8 L174.7,637.5 L175.3,687.5 L175.9,664.6 L176.4,336.7 L177.0,625.2 L177.6,690.6 L178.1,613.7 L178.7,336.3 L179.2,616.1 L179.8,329.5 L180.4,338.5 L180.9,652.8 L181.5,650.0 L182.0,327.3 L182.6,327.8 L183.2,640.5 L183.7,662.5 L184.3,349.8 L184.8,341.1 L185.4,607.1 L186.0,611.9 L186.5,340.8 L187.1,625.9 L187.7,326.4 L188.2,618.1 L188.8,338.0 L189.3,628.1 L189.9,331.9 L190.5,630.4 L191.0,347.7 L191.6,346.1 L192.1,625.9 L192.7,620.6 L193.3,623.9 L193.8,667.3 L194.4,604.7 L194.9,620.1 L195.5,330.7 L196.1,648.2 L196.6,333.4 L197.2,607.0 L197.8,684.2 L198.3,668.6 L198.9,683.8 L199.4,648.4 L200.0,679.4 L200.5,636.2 L201.1,658.9 L201.6,654.4 L202.2,336.3 L202.8,629.8 L203.3,636.3 L203.9,325.0 L204.4,607.8 L205.0,628.7 L205.6,339.8 L206.1,601.6 L206.7,339.3 L207.2,324.5 L207.8,690.8 L208.4,325.1 L208.9,643.9 L209.5,636.1 L210.1,600.4 L210.6,689.5 L211.2,694.5 L211.8,621.1 L212.3,334.1 L212.9,688.1 L213.4,621.0 L214.0,606.2 L214.6,332.6 L215.1,332.4 L215.7,332.9 L216.2,635.8 L216.8,330.3 L217.4,612.3 L217.9,637.2 L218.5,339.6 L219.1,329.5 L219.6,689.3 L220.2,670.1 L220.8,669.7 L221.3,645.1 L221.9,327.3 L222.4,326.6 L223.0,614.3 L223.6,645.7 L224.1,339.4 L224.7,648.6 L225.2,341.1 L225.8,329.0 L226.4,640.5 L226.9,327.7 L227.5,608.7 L228.1,340.7 L228.6,331.2 L229.2,628.3 L229.8,674.0 L230.3,665.6 L230.9,673.5 L231.4,325.3 L232.0,340.2 L232.6,656.3 L233.1,643.1 L233.7,328.1 L234.2,608.5 L234.8,678.1 L235.4,698.6 L235.9,347.0 L236.5,611.6 L237.0,618.1 L237.5,691.7 L238.1,339.1 L238.6,340.0 L239.2,613.6 L239.7,683.2 L240.3,643.0 L240.8,689.2 L241.4,665.6 L241.9,664.7 L242.4,342.8 L243.0,627.6 L243.5,625.5 L244.1,678.4 L244.6,619.2 L245.2,338.8 L245.7,335.6 L246.3,603.5 L246.8,340.5 L248.1,328.3 L248.6,326.4 L249.2,323.7 L249.7,322.2 L250.3,319.3 L250.8,318.7 L251.4,318.9 L252.0,317.1 L252.5,316.9 L253.1,318.1 L253.6,317.5 L254.2,316.3 L254.8,316.2 L255.3,315.8 L255.9,317.9 L256.4,318.1 L257.0,319.3 L257.5,319.7 L258.1,321.2 L258.7,322.1 L259.2,323.4 L259.8,325.3 L260.3,325.2 L260.9,324.2 L261.4,325.7 L262.0,326.3 L262.6,328.2 L263.1,331.2 L263.7,332.9 L264.2,334.0 L264.8,336.9 L265.4,333.3 L265.9,327.1 L266.5,322.2 L267.0,319.0 L267.6,317.2 L268.1,311.1 L268.7,310.8 L269.3,308.3 L269.8,304.4 L270.4,302.6 L270.9,300.5 L271.5,299.4 L272.0,298.5 L272.6,297.3 L273.2,297.6 L273.7,297.2 L274.3,295.9 L274.8,296.4 L275.4,297.0 L275.9,298.3 L276.5,298.2 L277.1,301.2 L277.6,302.7 L278.2,303.3 L278.7,308.8 L279.3,309.0 L279.9,312.1 L280.4,315.3 L281.0,315.1 L281.5,318.0 L282.1,319.1 L282.6,321.5 L283.2,324.0 L283.8,322.9 L284.3,321.2 L284.9,319.2 L285.5,316.8 L286.0,313.9 L286.6,310.5 L287.2,306.6 L287.7,302.1 L288.3,296.1 L288.9,289.2 L289.4,282.0 L290.0,275.2 L290.5,268.8 L291.1,262.2 L291.7,256.3 L292.2,251.6 L292.8,248.4 L293.4,245.5 L293.9,242.8 L294.5,240.4 L295.1,238.2 L295.6,236.5 L296.2,235.2 L296.8,234.4 L297.3,234.2 L297.9,234.6 L298.5,235.6 L299.0,237.1 L299.6,239.1 L300.1,241.5 L300.7,244.3 L301.3,247.5 L301.8,251.1 L302.4,259.0 L303.0,268.9 L303.5,276.6 L304.1,282.7 L304.7,288.2 L305.2,293.0 L305.8,296.8 L306.4,289.6 L306.9,282.7 L307.5,276.1 L308.0,269.9 L308.6,264.1 L309.1,258.8 L309.7,253.9 L310.3,249.3 L310.8,245.0 L311.4,240.9 L311.9,237.1 L312.5,233.3 L313.1,229.7 L313.6,226.7 L314.2,224.2 L314.7,221.7 L315.3,219.4 L315.8,217.3 L316.4,215.5 L317.0,214.1 L317.5,213.3 L318.1,213.0 L318.6,213.3 L319.2,214.0 L319.7,215.1 L320.3,216.4 L320.9,218.1 L321.4,220.0 L322.0,222.1 L322.5,224.4 L323.1,228.2 L323.7,233.3 L324.2,239.4 L324.8,246.0 L325.3,252.8 L325.9,259.3 L326.4,266.1 L327.0,273.3 L327.6,257.8 L328.1,244.4 L328.7,233.1 L329.3,223.0 L329.8,215.0 L330.4,209.5 L331.0,204.8 L331.5,201.0 L332.1,198.1 L332.7,196.2 L333.2,194.7 L333.8,193.3 L334.4,192.0 L334.9,190.9 L335.5,189.9 L336.1,189.2 L336.6,188.6 L337.2,188.3 L337.8,188.2 L338.4,188.4 L338.9,189.0 L339.5,189.9 L340.1,191.1 L340.6,192.5 L341.2,194.1 L341.8,195.9 L342.3,197.7 L342.9,199.9 L343.5,202.9 L344.0,206.8 L344.6,211.4 L345.2,216.6 L345.7,223.8 L346.3,232.0 L346.9,240.4 L347.4,249.5 L348.0,259.2 L348.6,247.9 L349.1,237.8 L349.7,228.9 L350.3,221.1 L350.8,214.6 L351.4,208.8 L352.0,203.5 L352.6,199.0 L353.1,195.7 L353.7,193.7 L354.3,191.8 L354.8,190.2 L355.4,188.8 L356.0,187.7 L356.5,187.0 L357.1,186.7 L357.7,186.9 L358.2,187.5 L358.8,188.5 L359.4,189.9 L359.9,191.7 L360.5,193.8 L361.1,196.9 L361.6,203.6 L362.2,211.6 L362.8,218.0 L363.4,223.6 L363.9,229.1 L364.5,235.2 L365.1,241.8 L365.6,248.6 L366.2,255.8 L366.8,241.0 L367.3,230.0 L367.9,222.1 L368.4,215.6 L369.0,209.4 L369.6,203.8 L370.1,199.7 L370.7,197.2 L371.2,195.3 L371.8,193.5 L372.4,191.9 L372.9,190.6 L373.5,189.6 L374.0,189.0 L374.6,188.7 L375.2,188.8 L375.7,189.3 L376.3,190.1 L376.8,191.2 L377.4,192.6 L378.0,194.2 L378.5,196.0 L379.1,197.9 L379.6,200.4 L380.2,204.4 L380.8,209.4 L381.3,214.7 L381.9,220.0 L382.4,225.6 L383.0,232.0 L383.6,239.5 L384.1,247.8 L384.7,257.1 L385.2,267.2 L385.8,278.3 L386.4,269.0 L386.9,260.4 L387.5,252.4 L388.0,245.1 L388.6,238.5 L389.1,232.7 L389.7,226.2 L390.2,219.5 L390.8,215.0 L391.4,212.5 L391.9,210.3 L392.5,208.4 L393.0,206.9 L393.6,205.7 L394.1,205.1 L394.7,205.0 L395.2,205.5 L395.8,206.6 L396.4,208.2 L396.9,210.1 L397.5,212.5 L398.0,215.1 L398.6,220.0 L399.1,227.2 L399.7,234.4 L400.2,241.8 L400.8,250.0 L401.4,259.0 L401.9,268.8 L402.5,279.4 L403.0,291.1 L403.6,302.5 L404.1,313.2 L404.7,323.1 L405.2,332.0 L405.8,340.0 L406.2,619.4 L406.8,660.9 L407.3,653.9 L407.9,684.7 L408.4,623.3 L409.0,603.3 L409.6,353.0 L410.1,336.0 L410.7,600.6 L411.2,645.9 L411.8,698.0 L412.3,656.9 L412.9,641.8 L413.5,346.5 L414.0,614.4 L414.6,635.3 L415.1,692.5 L415.7,654.0 L416.2,655.2 L416.8,608.0 L417.4,332.7 L417.9,337.8 L418.5,631.4 L419.0,351.3 L419.6,653.1 L420.2,667.6 L420.7,683.9 L421.3,333.1 L421.8,693.0 L422.4,661.6 L422.9,338.9 L423.5,601.3 L424.1,669.2 L424.6,683.4 L425.2,668.6 L425.7,658.7 L426.3,338.1 L426.9,352.0 L427.4,684.2 L428.0,696.9 L428.5,340.9 L429.1,671.3 L429.6,345.0 L430.2,637.9 L430.8,640.5 L431.3,346.2 L431.9,344.3 L432.4,349.1 L433.0,663.5 L433.6,687.3 L434.1,674.4 L434.7,662.9 L435.2,349.3 L435.8,653.5 L436.3,648.4 L436.9,350.4 L437.5,351.4 L438.0,350.3 L438.6,692.3 L439.1,335.8 L439.7,660.2 L440.3,350.1 L440.8,611.6 L441.4,329.7 L441.9,677.5 L442.5,683.8 L443.1,349.8 L443.6,335.7 L444.2,658.3 L444.7,348.2 L445.3,674.1 L445.8,335.2 L446.4,624.8 L447.0,620.7 L447.5,617.0 L448.1,609.2 L448.6,643.8 L449.2,350.2 L449.8,626.9 L450.3,339.2 L450.9,350.8 L451.4,629.7 L452.0,652.1 L452.5,625.4 L453.1,646.4 L453.7,619.5 L454.2,694.5 L454.8,670.9 L455.3,640.5 L455.9,618.5 L456.4,339.1 L457.0,350.9 L457.6,656.7 L458.1,642.7 L458.7,681.0 L459.2,699.1 L459.8,633.1 L460.4,691.3 L460.9,334.3 L461.5,660.6 L462.0,695.6 L462.6,682.0 L463.1,664.9 L463.7,652.6 L464.3,662.6 L464.8,605.9 L465.4,336.4 L465.9,664.6 L466.5,339.4 L467.1,602.7 L467.6,604.8 L468.2,698.4 L468.7,654.9 L469.3,603.7 L469.8,332.0 L470.4,336.1 L471.0,333.8 L471.5,656.6 L472.1,633.9 L472.6,350.8 L473.2,332.3 L473.8,664.8 L474.3,348.0 L474.9,617.7 L475.4,644.0 L476.0,339.9 L476.6,352.6 L477.1,623.2 L477.7,340.0 L478.2,694.1 L478.8,679.1 L479.3,334.9 L479.9,660.4 L480.5,632.8 L481.0,644.1 L481.6,672.9 L482.1,338.7 L482.7,352.1 L483.2,627.6 L483.8,330.8 L484.4,339.6 L484.9,663.7 L485.5,691.5 L486.0,681.2 L486.6,637.2 L487.2,335.1 L487.7,350.4 L488.3,692.8 L488.8,682.4 L489.4,350.0 L489.9,609.2 L490.5,610.7 L491.1,338.6 L491.6,617.2 L492.2,340.1 L492.7,337.6 L493.3,685.9 L493.9,693.5 L494.4,692.5 L495.0,644.8 L495.5,655.5 L496.1,346.8 L496.6,672.3 L497.2,656.3 L497.8,692.8 L498.3,691.2 L498.9,669.5 L499.4,333.1 L500.0,605.9 L500.5,669.9 L501.1,695.0 L501.6,626.8 L502.2,637.1 L502.7,602.1 L503.3,626.2 L503.9,637.7 L504.4,340.8 L505.0,622.8 L505.5,339.5 L506.1,687.7 L506.7,669.4 L507.2,341.0 L507.8,666.5 L508.3,666.2 L508.9,635.4 L509.5,693.9 L510.0,616.9 L510.6,667.1 L511.1,330.1 L511.7,695.5 L512.3,606.9 L512.8,354.5 L513.4,640.8 L513.9,689.9 L514.5,330.8 L515.1,342.2 L515.6,353.2 L516.2,630.8 L516.8,616.7 L517.3,677.3 L517.9,352.0 L518.4,619.6 L519.0,694.7 L519.6,339.5 L520.1,355.8 L520.7,639.0 L521.2,691.8 L521.8,642.0 L522.4,600.3 L522.9,680.9 L523.5,647.7 L524.0,626.5 L524.6,340.4 L525.2,699.3 L525.7,699.7 L526.3,630.8 L526.8,352.1 L527.4,344.5 L528.0,343.9 L528.5,671.0 L529.1,654.3 L529.6,332.0 L530.2,662.1 L530.8,683.6 L531.3,331.6 L531.9,654.6 L532.4,343.5 L533.0,632.9 L533.6,609.9 L534.1,647.9 L534.7,656.7 L535.2,673.7 L535.8,675.2 L536.4,668.9 L536.9,608.5 L537.5,360.8 L538.0,351.8 L538.6,348.5 L539.2,640.7 L539.7,665.3 L540.3,687.6 L540.8,331.6 L541.4,346.7 L542.0,612.6 L542.5,699.4 L543.1,682.4 L543.6,697.9 L544.2,330.7 L544.8,336.8 L545.3,620.5 L545.9,629.3 L546.5,337.6 L547.0,669.1 L547.6,347.3 L548.1,666.1 L548.7,687.1 L549.3,613.6 L549.8,342.3 L550.4,690.7 L550.9,686.5 L551.5,668.0 L552.1,653.7 L552.6,682.6 L553.2,334.9 L553.7,601.1 L554.3,628.5 L554.9,345.1 L555.4,351.1 L556.0,686.2 L556.5,699.6 L557.1,604.5 L557.7,334.4 L558.2,611.1 L558.8,635.4 L559.3,660.3 L559.9,616.0 L560.5,338.4 L561.0,338.3 L561.6,604.4 L562.1,616.9 L562.7,667.4 L563.3,602.1 L563.8,629.5 L564.4,659.7 L564.9,349.3 L565.5,349.2 L566.1,338.0 L566.6,673.9 L567.2,332.7 L567.7,642.7 L568.3,682.3 L568.9,667.2 L569.4,604.1 L570.0,664.1 L570.5,684.8 L571.1,623.9 L571.7,606.4 L572.2,353.0 L572.8,683.3 L573.3,628.9 L573.9,608.5 L574.5,693.1 L575.0,679.5 L575.6,609.3 L576.2,617.1 L576.7,601.9 L577.3,625.9 L577.8,696.2 L578.4,345.9 L579.0,347.1 L579.5,620.8 L580.1,627.7 L580.6,345.4 L581.2,344.5 L581.8,692.3 L582.3,622.2 L582.9,685.4 L583.4,346.3 L584.0,606.1 L584.6,607.3 L585.1,331.7 L585.7,334.3 L586.2,698.1 L586.8,668.8 L587.4,335.6 L587.9,606.1 L588.5,347.7 L589.0,659.4 L589.6,622.4 L590.2,352.3 L590.7,346.2 L591.3,674.9 L591.8,352.5 L592.4,631.9 L593.0,698.8 L593.5,684.8 L594.1,696.0 L594.6,683.4 L595.2,676.6 L595.8,608.8 L596.3,687.8 L596.9,345.8 L597.4,692.8 L598.0,661.6 L598.6,337.5 L599.1,675.6 L599.7,672.8 L600.2,344.2 L600.8,331.4 L601.4,344.3 L601.9,344.5 L602.5,681.1 L603.0,331.3 L603.6,336.5 L604.2,693.5 L604.7,335.1 L605.3,629.0 L605.9,617.7 L606.4,636.0 L607.0,687.4 L607.5,341.7 L608.1,695.2 L608.7,345.2 L609.2,350.5 L609.8,636.3 L610.3,692.2 L610.9,340.2 L611.5,697.5 L612.0,696.4 L612.6,651.4 L613.1,351.3 L613.7,650.7 L614.3,343.7 L614.8,683.3 L615.4,600.1 L615.9,643.6 L616.5,695.9 L617.1,332.6 L617.6,684.1 L618.2,677.3 L618.7,646.8 L619.3,625.2 L619.9,641.9 L620.4,652.5 L621.0,353.6 L621.5,625.7 L622.1,643.9 L622.7,633.2 L623.2,653.9 L623.8,654.3 L624.3,600.7 L624.9,697.1 L625.5,606.5 L626.0,670.4 L626.6,640.3 L627.1,654.3 L627.7,335.2 L628.3,661.4 L628.8,652.6 L629.4,348.1 L629.9,643.2 L630.5,651.5 L631.1,613.5 L631.6,350.3 L632.2,331.1 L632.7,353.4 L633.3,638.3 L633.9,336.4 L634.4,663.1 L635.0,690.3 L635.6,680.5 L636.1,346.7 L636.7,608.8 L637.2,675.9 L637.8,644.9 L638.4,667.8 L638.9,679.3 L639.5,619.1 L640.0,634.9 L640.6,655.7 L641.2,641.7 L641.7,352.6 L642.3,687.2 L642.8,698.4 L643.4,689.9 L644.0,339.1 L644.5,334.5 L645.1,666.4 L645.6,666.8 L646.2,640.3 L646.8,338.5 L647.3,618.2 L647.9,335.8 L648.4,352.3 L649.0,650.1" stroke="#d62728"/>
</g>
<rect x="90.5" y="52.5" width="558.0" height="326.0" fill="none" stroke="#d0d0d0" stroke-width="1" shape-rendering="crispEdges"/>
<rect x="97.5" y="60.2" width="147" height="66.8" rx="3.5" ry="3.5" fill="#ffffff" fill-opacity="0.8" stroke="#cccccc" stroke-opacity="0.9" stroke-width="1"/>
<path d="M102.5,71H132.5" stroke="#bcbd22" stroke-width="1.6"/>
<path d="M102.5,92H132.5" stroke="#ff7f0e" stroke-width="1.6"/>
<path d="M102.5,113H132.5" stroke="#d62728" stroke-width="1.6"/>
</svg>
<svg class="ov" width="720" height="432" viewBox="0 0 720 432">
<text x="143.0" y="75.8" class="t" font-size="15.0" textLength="94.6" lengthAdjust="spacingAndGlyphs">OptoBoard QA</text>
<text x="143.0" y="96.8" class="t" font-size="15.0" textLength="79.6" lengthAdjust="spacingAndGlyphs">Post Burn-In</text>
<text x="143.0" y="117.6" class="t" font-size="15.0" textLength="73.4" lengthAdjust="spacingAndGlyphs">Pre Burn-In</text>
<text x="144.6" y="391.8" class="t" font-size="15.1" text-anchor="middle" textLength="23.0" lengthAdjust="spacingAndGlyphs" style="fill:#101010;stroke:#101010;stroke-width:0.3px">842</text>
<text x="222.1" y="391.8" class="t" font-size="15.1" text-anchor="middle" textLength="23.0" lengthAdjust="spacingAndGlyphs" style="fill:#101010;stroke:#101010;stroke-width:0.3px">844</text>
<text x="299.6" y="391.8" class="t" font-size="15.1" text-anchor="middle" textLength="23.0" lengthAdjust="spacingAndGlyphs" style="fill:#101010;stroke:#101010;stroke-width:0.3px">846</text>
<text x="377.1" y="391.8" class="t" font-size="15.1" text-anchor="middle" textLength="23.0" lengthAdjust="spacingAndGlyphs" style="fill:#101010;stroke:#101010;stroke-width:0.3px">848</text>
<text x="454.6" y="391.8" class="t" font-size="15.1" text-anchor="middle" textLength="23.0" lengthAdjust="spacingAndGlyphs" style="fill:#101010;stroke:#101010;stroke-width:0.3px">850</text>
<text x="532.1" y="391.8" class="t" font-size="15.1" text-anchor="middle" textLength="23.0" lengthAdjust="spacingAndGlyphs" style="fill:#101010;stroke:#101010;stroke-width:0.3px">852</text>
<text x="609.6" y="391.8" class="t" font-size="15.1" text-anchor="middle" textLength="23.0" lengthAdjust="spacingAndGlyphs" style="fill:#101010;stroke:#101010;stroke-width:0.3px">854</text>
<text x="86.3" y="56.6" class="t" font-size="15.1" text-anchor="end" textLength="15.4" lengthAdjust="spacingAndGlyphs" style="fill:#101010;stroke:#101010;stroke-width:0.3px">20</text>
<text x="87.2" y="116.8" class="t" font-size="15.1" text-anchor="end" textLength="7.9" lengthAdjust="spacingAndGlyphs" style="fill:#101010;stroke:#101010;stroke-width:0.3px">0</text>
<text x="86.3" y="175.39999999999998" class="t" font-size="15.1" text-anchor="end" textLength="22.8" lengthAdjust="spacingAndGlyphs" style="fill:#101010;stroke:#101010;stroke-width:0.3px">−20</text>
<text x="86.3" y="234.79999999999998" class="t" font-size="15.1" text-anchor="end" textLength="22.8" lengthAdjust="spacingAndGlyphs" style="fill:#101010;stroke:#101010;stroke-width:0.3px">−40</text>
<text x="86.3" y="294.9" class="t" font-size="15.1" text-anchor="end" textLength="22.8" lengthAdjust="spacingAndGlyphs" style="fill:#101010;stroke:#101010;stroke-width:0.3px">−60</text>
<text x="86.3" y="353.7" class="t" font-size="15.1" text-anchor="end" textLength="22.8" lengthAdjust="spacingAndGlyphs" style="fill:#101010;stroke:#101010;stroke-width:0.3px">−80</text>
<text x="369.4" y="45.6" class="t" font-size="15.6" text-anchor="middle" textLength="161.4" lengthAdjust="spacingAndGlyphs">D4555 V20497 Ch. 3</text>
<text x="368.3" y="411.5" class="t" font-size="15.6" text-anchor="middle" textLength="128.4" lengthAdjust="spacingAndGlyphs" style="fill:#151515;stroke:#151515;stroke-width:0.15px">Wavelength [nm]</text>
<text transform="translate(53.8,215.4) rotate(-90)" class="t" font-size="15.6" text-anchor="middle" textLength="143.4" lengthAdjust="spacingAndGlyphs" style="fill:#151515;stroke:#151515;stroke-width:0.15px">Optical Power [dB]</text>
</svg>
</body></html>
